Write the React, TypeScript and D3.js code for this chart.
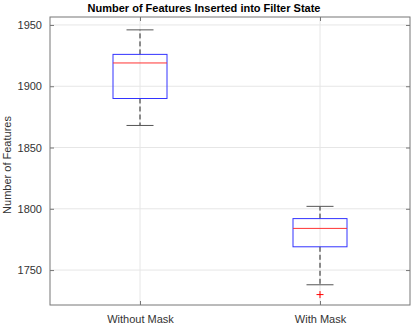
import React, { useEffect, useRef } from 'react';
import * as d3 from 'd3';

// box statistics
const groups = ['Without Mask', 'With Mask'];
const lowerWhisker = [1868, 1738];
const q1 = [1890, 1769];
const medians = [1919, 1784];
const q3 = [1926, 1792];
const upperWhisker = [1946, 1802];
const outliers = [[], [1730]];
const yTicks = [1750, 1800, 1850, 1900, 1950];

const W = 411;
const H = 325;

const App = () => {
  const svgRef = useRef<SVGSVGElement>(null);

  useEffect(() => {
    const svg = d3.select(svgRef.current);
    svg.selectAll('*').remove();

    const margin = { top: 17, right: 1, bottom: 20, left: 50 };
    const innerW = W - margin.left - margin.right;
    const innerH = H - margin.top - margin.bottom;
    const font = 'Liberation Sans, Arial, Helvetica, sans-serif';

    const g = svg.append('g').attr('transform', `translate(${margin.left},${margin.top})`);

    const x = d3.scalePoint().domain(groups).range([0, innerW]).padding(0.5);
    const y = d3.scaleLinear().domain([1721.5, 1956.5]).range([innerH, 0]);

    // grid
    g.append('g')
      .selectAll('line.hg')
      .data(yTicks)
      .enter().append('line')
      .attr('x1', 0).attr('x2', innerW)
      .attr('y1', d => y(d)).attr('y2', d => y(d))
      .attr('stroke', '#e6e6e6').attr('stroke-width', 1);
    g.append('g')
      .selectAll('line.vg')
      .data(groups)
      .enter().append('line')
      .attr('x1', d => x(d)!).attr('x2', d => x(d)!)
      .attr('y1', 0).attr('y2', innerH)
      .attr('stroke', '#e6e6e6').attr('stroke-width', 1);

    const boxW = 54;
    const capW = 27;

    groups.forEach((name, i) => {
      const cx = x(name)!;
      const bg = g.append('g');
      // whiskers
      bg.append('line')
        .attr('x1', cx).attr('x2', cx)
        .attr('y1', y(q3[i])).attr('y2', y(upperWhisker[i]))
        .attr('stroke', '#222').attr('stroke-dasharray', '5,3');
      bg.append('line')
        .attr('x1', cx).attr('x2', cx)
        .attr('y1', y(q1[i])).attr('y2', y(lowerWhisker[i]))
        .attr('stroke', '#222').attr('stroke-dasharray', '5,3');
      [upperWhisker[i], lowerWhisker[i]].forEach(v => {
        bg.append('line')
          .attr('x1', cx - capW / 2).attr('x2', cx + capW / 2)
          .attr('y1', y(v)).attr('y2', y(v))
          .attr('stroke', '#555');
      });
      // box
      bg.append('rect')
        .attr('x', cx - boxW / 2).attr('width', boxW)
        .attr('y', y(q3[i])).attr('height', y(q1[i]) - y(q3[i]))
        .attr('fill', 'none').attr('stroke', '#3333ff');
      bg.append('line')
        .attr('x1', cx - boxW / 2).attr('x2', cx + boxW / 2)
        .attr('y1', y(medians[i])).attr('y2', y(medians[i]))
        .attr('stroke', '#ff3333');
      // outliers
      outliers[i].forEach(v => {
        bg.append('path')
          .attr('d', `M${cx - 3.5},${y(v)}H${cx + 3.5}M${cx},${y(v) - 3.5}V${y(v) + 3.5}`)
          .attr('stroke', 'red');
      });
    });

    // axes box
    g.append('rect')
      .attr('x', 0).attr('y', 0).attr('width', innerW).attr('height', innerH)
      .attr('fill', 'none').attr('stroke', '#777');

    const yAxis = g.append('g')
      .call(d3.axisLeft(y).tickValues(yTicks).tickSize(-4).tickPadding(8).tickFormat(d3.format('d')));
    yAxis.select('.domain').remove();
    yAxis.selectAll('line').attr('stroke', '#777');
    yAxis.selectAll('text').style('font-size', '11px').style('font-family', font).attr('fill', '#333');

    const yAxisR = g.append('g').attr('transform', `translate(${innerW},0)`)
      .call(d3.axisRight(y).tickValues(yTicks).tickSize(-4).tickFormat(() => ''));
    yAxisR.select('.domain').remove();
    yAxisR.selectAll('line').attr('stroke', '#777');

    const xAxis = g.append('g').attr('transform', `translate(0,${innerH})`)
      .call(d3.axisBottom(x).tickSize(-4).tickPadding(10));
    xAxis.select('.domain').remove();
    xAxis.selectAll('line').attr('stroke', '#777');
    xAxis.selectAll('text').style('font-size', '11px').style('font-family', font).attr('fill', '#333');

    const xAxisT = g.append('g')
      .call(d3.axisTop(x).tickSize(-4).tickFormat(() => ''));
    xAxisT.select('.domain').remove();
    xAxisT.selectAll('line').attr('stroke', '#777');

    // y label
    g.append('text')
      .attr('transform', 'rotate(-90)')
      .attr('x', -148)
      .attr('y', -39)
      .attr('text-anchor', 'middle')
      .style('font-size', '11px')
      .style('font-family', font)
      .attr('fill', '#333')
      .text('Number of Features');

    // title
    svg.append('text')
      .attr('x', 204)
      .attr('y', 12)
      .attr('text-anchor', 'middle')
      .style('font-size', '11px')
      .style('font-weight', 'bold')
      .style('font-family', font)
      .attr('fill', '#000')
      .text('Number of Features Inserted into Filter State');
  }, []);

  return (
    <svg ref={svgRef} width={W} height={H} style={{ position: 'absolute', left: 0, top: 0, background: '#fff' }} />
  );
};

export default App;
